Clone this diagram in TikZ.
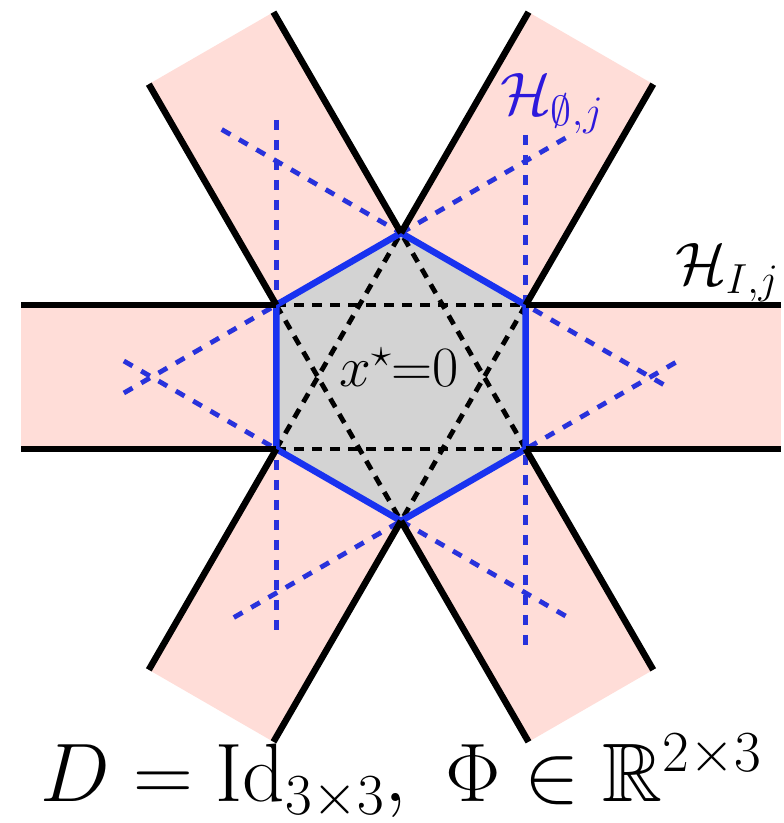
\RequirePackage{fix-cm}
\documentclass[tikz,border=0pt]{standalone}
\usepackage{amssymb}
\usetikzlibrary{calc}
\definecolor{stripfill}{RGB}{255,221,216}
\definecolor{hexfill}{RGB}{211,211,211}
\definecolor{hexblue}{RGB}{25,50,240}
\definecolor{dashblue}{RGB}{40,50,220}
\definecolor{labelblue}{RGB}{45,25,220}
\begin{document}
\begin{tikzpicture}[x=1pt,y=1pt,
  stripline/.style={line width=6.5pt, black},
  hexedge/.style={line width=6.5pt, hexblue, line join=round},
  bluedash/.style={line width=4.8pt, dashblue, dash pattern=on 10pt off 10pt},
  blackdash/.style={line width=4.8pt, black, dash pattern=on 10pt off 8pt},
  lbl/.style={inner sep=0pt}
  ]
\useasboundingbox (0,0) rectangle (784,823);
\coordinate (C) at (401,446);
\foreach \a in {30,90,150,210,270,330} \coordinate (v\a) at ($(C)+(\a:144)$);
% strips
\foreach \d/\p/\q in {180/150/210, 120/90/150, 60/30/90, 0/330/30, 300/270/330, 240/210/270} {
  \coordinate (ea\d) at ($(v\p)+(\d:255)$);
  \coordinate (eb\d) at ($(v\q)+(\d:255)$);
  \fill[stripfill] (v\p) -- (ea\d) -- (eb\d) -- (v\q) -- cycle;
}
% hexagon
\fill[hexfill] (v30) -- (v90) -- (v150) -- (v210) -- (v270) -- (v330) -- cycle;
% blue dashed edge lines
\draw[bluedash] ($(v150)!-185pt!(v210)$) -- ($(v210)!-184pt!(v150)$);
\draw[bluedash] ($(v30)!-170pt!(v330)$) -- ($(v330)!-199pt!(v30)$);
\draw[bluedash] ($(v150)!-176pt!(v90)$) -- ($(v90)!-193pt!(v150)$);
\draw[bluedash] ($(v90)!-207pt!(v30)$) -- ($(v30)!-162pt!(v90)$);
\draw[bluedash] ($(v210)!-176pt!(v270)$) -- ($(v270)!-195pt!(v210)$);
\draw[bluedash] ($(v270)!-193pt!(v330)$) -- ($(v330)!-177pt!(v270)$);
% black dashed chords
\draw[blackdash] (v150) -- (v30);
\draw[blackdash] (v210) -- (v330);
\draw[blackdash] (v150) -- (v270);
\draw[blackdash] (v30) -- (v270);
\draw[blackdash] (v210) -- (v90);
\draw[blackdash] (v330) -- (v90);
% hexagon edges
\draw[hexedge] (v30) -- (v90) -- (v150) -- (v210) -- (v270) -- (v330) -- cycle;
% strip boundary lines
\foreach \d/\p/\q in {180/150/210, 120/90/150, 60/30/90, 0/330/30, 300/270/330, 240/210/270} {
  \draw[stripline] (v\p) -- (ea\d);
  \draw[stripline] (v\q) -- (eb\d);
}
% labels
\node[lbl, anchor=base west, text=labelblue, font=\fontsize{60}{70}\selectfont] (hempty) at (500,708) {$\mathcal{H}_{\emptyset,j}$};
\node[lbl, anchor=base west, font=\fontsize{60}{70}\selectfont] (hI) at (675,538) {$\mathcal{H}_{I,j}$};
\node[lbl, anchor=base, font=\fontsize{57}{64}\selectfont] (xs) at (399,436) {$x^\star{=}0$};
\node[lbl, anchor=base, font=\fontsize{83}{90}\selectfont] (cap) at (401,21) {$D=\mathrm{Id}_{3\times 3},\ \Phi\in\mathbb{R}^{2\times 3}$};
\end{tikzpicture}
\end{document}
